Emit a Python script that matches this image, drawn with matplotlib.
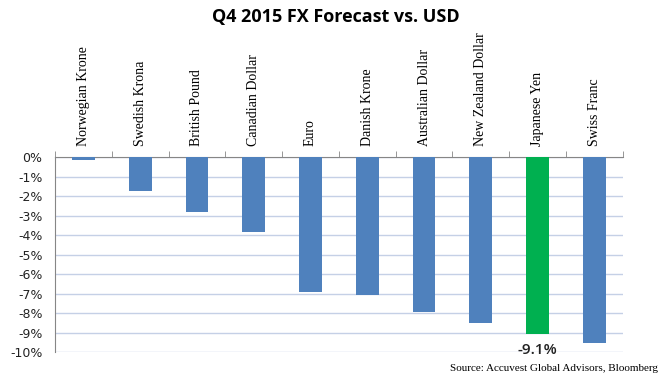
import matplotlib.pyplot as plt
import numpy as np

currencies = ['Norwegian Krone', 'Swedish Krona', 'British Pound', 'Canadian Dollar',
              'Euro', 'Danish Krone', 'Australian Dollar', 'New Zealand Dollar',
              'Japanese Yen', 'Swiss Franc']
forecast = [-0.15, -1.73, -2.8, -3.83, -6.9, -7.05, -7.95, -8.5, -9.1, -9.52]
highlight = 'Japanese Yen'

colors = ['#00B050' if c == highlight else '#4F81BD' for c in currencies]

fig = plt.figure(figsize=(6.71, 3.86), dpi=100)
ax = fig.add_axes([0.082, 0.088, 0.846, 0.505])

x = np.arange(len(currencies))
ax.bar(x, forecast, width=0.4, color=colors, zorder=3)

ax.set_xlim(-0.5, len(currencies) - 0.5)
ax.set_ylim(-10, 0)
ax.set_yticks(np.arange(-10, 1, 1))
ax.set_yticklabels([f'{v}%' for v in range(-10, 1)], fontsize=9, color='#222222')
ax.yaxis.grid(True, color='#C5D0E6', linewidth=1, zorder=0)
ax.tick_params(axis='y', length=0, pad=9)

ax.xaxis.tick_top()
ax.set_xticks(x)
ax.set_xticklabels(currencies, rotation=90, fontsize=10, family='Liberation Serif')
ax.set_xticks(np.arange(-0.5, len(currencies)), minor=True)
ax.tick_params(axis='x', which='major', length=0, pad=8)
ax.tick_params(axis='x', which='minor', length=4, color='#868686', top=True, bottom=False)

for side in ['right', 'bottom']:
    ax.spines[side].set_visible(False)
for side in ['left', 'top']:
    ax.spines[side].set_color('#868686')

i = currencies.index(highlight)
ax.annotate(f'{forecast[i]:.1f}%', (x[i], forecast[i]), xytext=(0, -6),
            textcoords='offset points', ha='center', va='top',
            fontsize=11, fontweight='semibold', family='Open Sans', color='#222222')

fig.text(0.5, 0.955, 'Q4 2015 FX Forecast vs. USD', ha='center', va='center',
         fontsize=13, fontweight='bold', family='Open Sans')
fig.text(0.981, 0.045, 'Source: Accuvest Global Advisors, Bloomberg', ha='right',
         va='center', fontsize=8, family='Liberation Serif')

fig.savefig('out.png', dpi=100)
